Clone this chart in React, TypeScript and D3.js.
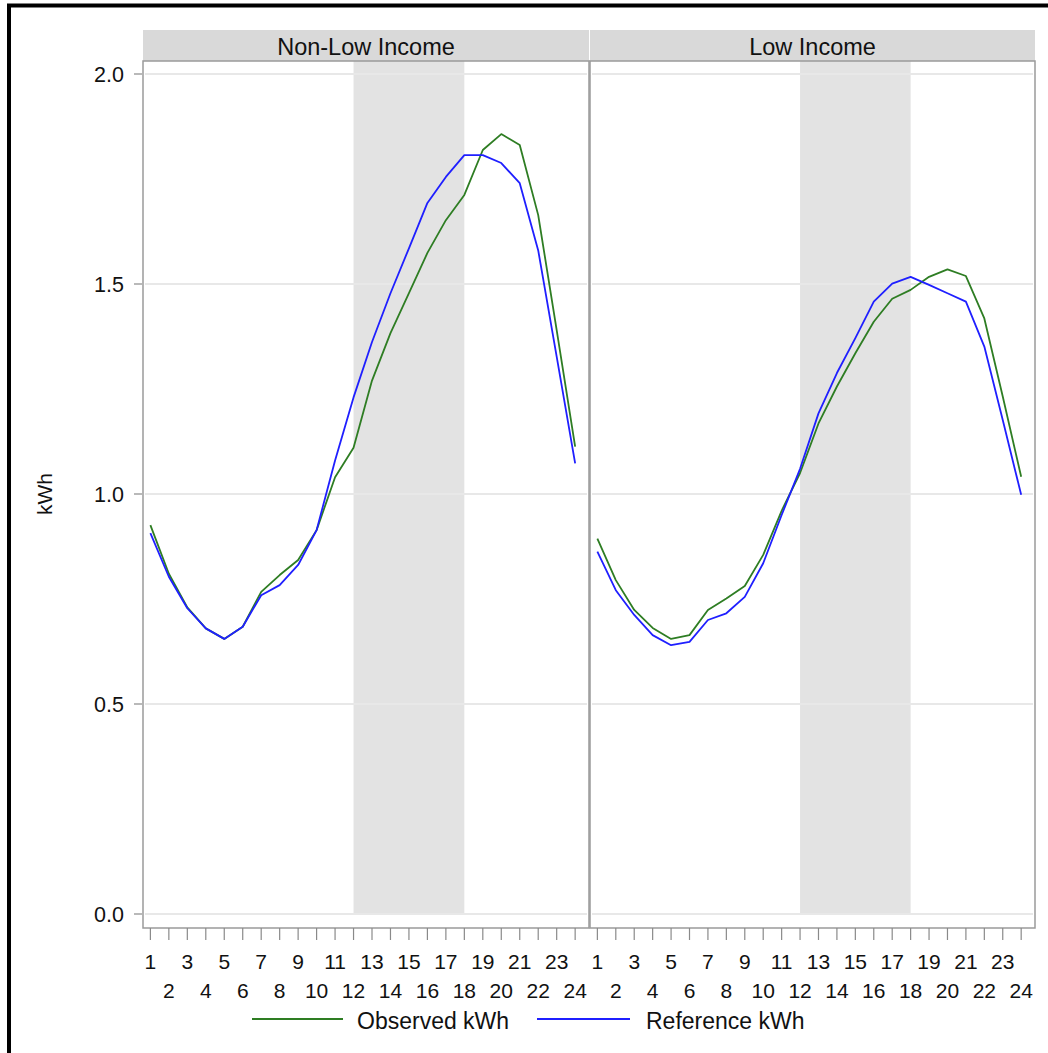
import React from "react";
import * as d3 from "d3";

const hours = d3.range(1, 25);
const panels = ["Non-Low Income", "Low Income"];
const nonLowObserved = [0.926, 0.81, 0.73, 0.68, 0.655, 0.684, 0.767, 0.807, 0.843, 0.914, 1.04, 1.11, 1.27, 1.383, 1.478, 1.574, 1.652, 1.712, 1.819, 1.857, 1.831, 1.664, 1.39, 1.113];
const nonLowReference = [0.907, 0.803, 0.728, 0.68, 0.655, 0.684, 0.759, 0.783, 0.831, 0.914, 1.08, 1.23, 1.362, 1.478, 1.585, 1.693, 1.755, 1.807, 1.807, 1.788, 1.74, 1.58, 1.327, 1.073];
const lowObserved = [0.894, 0.795, 0.724, 0.681, 0.655, 0.664, 0.724, 0.751, 0.781, 0.855, 0.96, 1.05, 1.168, 1.256, 1.335, 1.41, 1.465, 1.486, 1.517, 1.535, 1.519, 1.418, 1.232, 1.041];
const lowReference = [0.863, 0.771, 0.712, 0.664, 0.64, 0.648, 0.70, 0.716, 0.755, 0.835, 0.95, 1.06, 1.192, 1.288, 1.371, 1.458, 1.501, 1.517, 1.498, 1.478, 1.458, 1.351, 1.176, 0.998];
const yTicks = [0, 0.5, 1.0, 1.5, 2.0];
const shadeBand = [12, 18];
const seriesNames = ["Observed kWh", "Reference kWh"];
const seriesColors = ["#2e7d23", "#1f1fff"];

const panelData = [
  [nonLowObserved, nonLowReference],
  [lowObserved, lowReference],
];

const FONT = "Arial, 'Liberation Sans', Helvetica, sans-serif";

export default function App() {
  const W = 1048, H = 1053;
  const panelLefts = [143, 590];
  const panelWidths = [446, 445];
  const panelTop = 61, panelBottom = 928;
  const y = d3.scaleLinear().domain([0, 2]).range([914, 74]);
  const xScales = panelLefts.map((l, i) =>
    d3.scaleLinear().domain([0.6, 24.75]).range([l, l + panelWidths[i]])
  );

  return (
    <svg width={W} height={H} style={{ position: "absolute", left: 0, top: 0, background: "#fff" }} fontFamily={FONT}>
      <rect x={0} y={0} width={W} height={H} fill="#fff" />
      {panels.map((name, pi) => {
        const x = xScales[pi];
        const l = panelLefts[pi], w = panelWidths[pi];
        const line = d3.line<number>().x((_, i) => x(hours[i])).y((d) => y(d));
        return (
          <g key={name}>
            <rect x={l} y={30} width={w} height={panelTop - 30} fill="#d9d9d9" />
            <text x={l + w / 2} y={55} textAnchor="middle" fontSize={23.5} fill="#111">{name}</text>
            <rect x={x(shadeBand[0])} y={panelTop} width={x(shadeBand[1]) - x(shadeBand[0])} height={y(0) - panelTop} fill="#e3e3e3" />
            {yTicks.map((t) => (
              <line key={t} x1={l + 2} x2={l + w - 2} y1={y(t)} y2={y(t)} stroke="#e8e8e8" strokeWidth={2} />
            ))}
            {panelData[pi].map((vals, si) => (
              <path key={si} d={line(vals) || ""} fill="none" stroke={seriesColors[si]} strokeWidth={1.8} strokeLinejoin="round" />
            ))}
            <rect x={l} y={panelTop} width={w} height={panelBottom - panelTop} fill="none" stroke="#9a9a9a" strokeWidth={1.5} />
            {hours.map((h) => (
              <g key={h}>
                <line x1={x(h)} x2={x(h)} y1={panelBottom} y2={940} stroke="#8a8a8a" strokeWidth={1.2} />
                <text x={x(h)} y={h % 2 === 1 ? 969 : 998} textAnchor="middle" fontSize={21} fill="#111">{h}</text>
              </g>
            ))}
          </g>
        );
      })}
      {yTicks.map((t) => (
        <g key={t}>
          <line x1={134} x2={142} y1={y(t)} y2={y(t)} stroke="#8a8a8a" strokeWidth={1.2} />
          <text x={124} y={y(t) + 7.5} textAnchor="end" fontSize={21.5} fill="#111">{t.toFixed(1)}</text>
        </g>
      ))}
      <text transform={`translate(52,${y(1)}) rotate(-90)`} textAnchor="middle" fontSize={21} fill="#111">kWh</text>
      <line x1={252} x2={343} y1={1019} y2={1019} stroke={seriesColors[0]} strokeWidth={1.8} />
      <text x={357} y={1029} fontSize={23} fill="#111">{seriesNames[0]}</text>
      <line x1={537} x2={630} y1={1019} y2={1019} stroke={seriesColors[1]} strokeWidth={1.8} />
      <text x={646} y={1029} fontSize={23} fill="#111">{seriesNames[1]}</text>
      <rect x={9} y={5.5} width={1200} height={1200} fill="none" stroke="#000" strokeWidth={4} />
    </svg>
  );
}
